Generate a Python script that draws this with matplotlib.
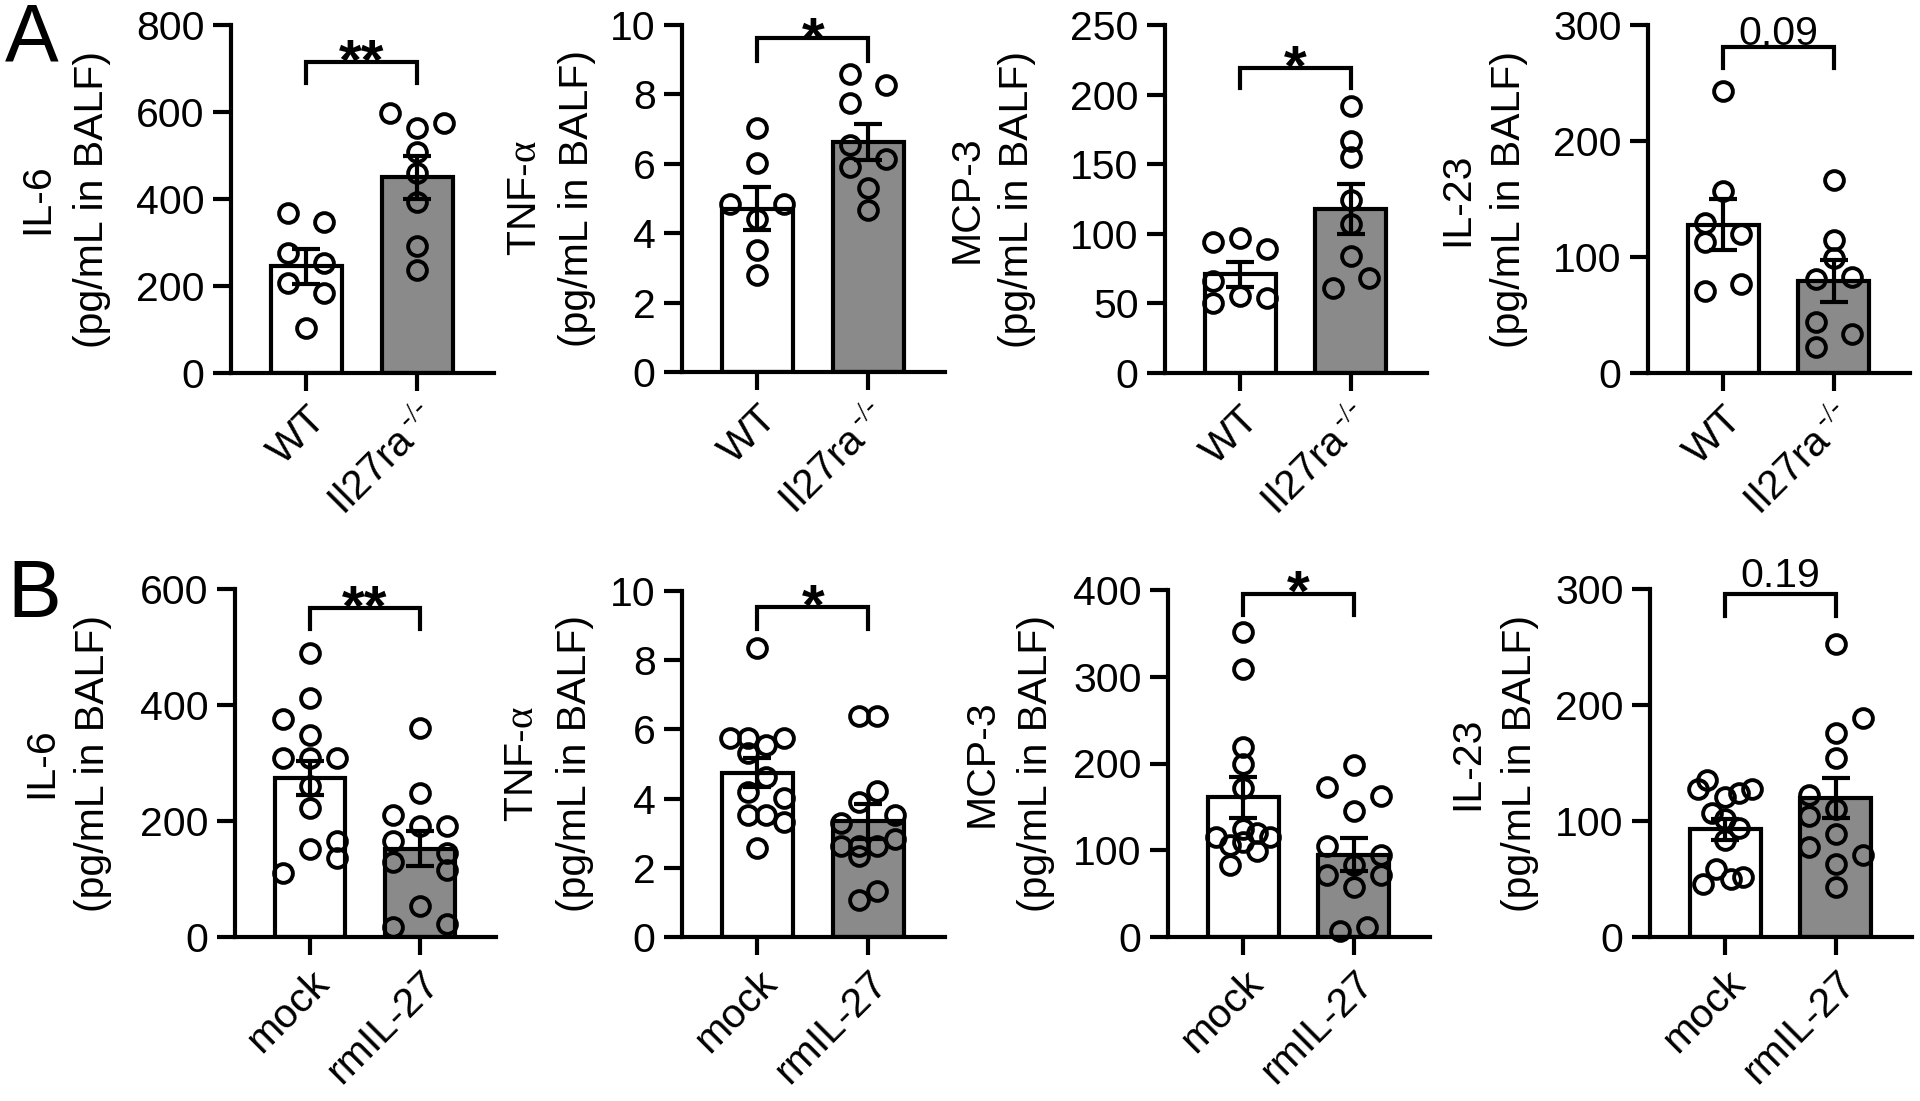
import numpy as np
import matplotlib.pyplot as plt
from matplotlib.transforms import blended_transform_factory

plt.rcParams['font.family'] = ['Liberation Sans', 'DejaVu Sans']
plt.rcParams['mathtext.fontset'] = 'custom'
plt.rcParams['mathtext.rm'] = 'Liberation Serif'

# ---- panel A : WT vs Il27ra-/- ----
groups_a = ['WT', r'Il27ra$^{\,\text{-/-}}$']

il6_a_wt = [367, 346, 276, 253, 207, 184, 103]
il6_a_ko = [597, 574, 563, 509, 459, 394, 291, 237]
il6_a_mean = [245, 450]
il6_a_sem = [40, 50]

tnf_a_wt = [7.02, 6.01, 4.84, 4.84, 4.42, 3.51, 2.79]
tnf_a_ko = [8.59, 8.27, 7.76, 6.54, 6.13, 5.91, 5.29, 4.66]
tnf_a_mean = [4.70, 6.63]
tnf_a_sem = [0.62, 0.53]

mcp_a_wt = [94, 97, 89, 66, 55, 50.5, 54]
mcp_a_ko = [192, 167, 155, 124, 107, 84, 68.5, 61]
mcp_a_mean = [71, 118]
mcp_a_sem = [9, 18]

il23_a_wt = [243, 157, 129, 120, 113, 71, 77]
il23_a_ko = [166, 115, 99, 81, 83, 44, 34, 22]
il23_a_mean = [128, 79]
il23_a_sem = [22, 18]

# ---- panel B : mock vs rmIL-27 ----
groups_b = ['mock', 'rmIL-27']

il6_b_mock = [490, 412, 376, 349, 309, 309, 309, 260, 222, 165, 152, 136, 110]
il6_b_rm = [360, 248, 211, 191, 191, 165, 145, 129, 116, 53, 18, 23]
il6_b_mean = [274, 152]
il6_b_sem = [29, 30]

tnf_b_mock = [8.34, 5.74, 5.74, 5.74, 5.55, 5.33, 4.63, 4.20, 4.01, 3.53, 3.53, 3.31, 2.57]
tnf_b_rm = [6.38, 6.38, 4.23, 3.91, 3.53, 3.29, 2.83, 2.62, 2.62, 2.62, 2.33, 1.32, 1.08]
tnf_b_mean = [4.75, 3.34]
tnf_b_sem = [0.42, 0.50]

mcp_b_mock = [352, 309, 219, 200, 172, 124, 120, 115, 115, 110, 106, 99, 83]
mcp_b_rm = [198, 173, 163, 145, 105, 95, 83, 72, 72, 58, 12, 7]
mcp_b_mean = [161, 95]
mcp_b_sem = [24, 19]

il23_b_mock = [135, 128, 128, 124, 121, 107, 102, 94, 84, 59, 52, 50, 46]
il23_b_rm = [253, 189, 176, 154, 122, 110, 104, 89, 78, 71, 63, 43]
il23_b_mean = [93, 120]
il23_b_sem = [9, 17]

# horizontal scatter columns for each point (units of ~9 px)
cols = {
    'il6_a': ([-2, 2, -2, 2, -2, 2, 0], [-3, 3, 0, 0, 0, 0, 0, 0]),
    'tnf_a': ([0, 0, -3, 3, 0, 0, 0], [-2, 2, -2, -2, 2, -2, 0, 0]),
    'mcp_a': ([-3, 0, 3, -3, 0, -3, 3], [0, 0, 0, 0, 0, 0, 2, -2]),
    'il23_a': ([0, 0, -2, 2, -2, -2, 2], [0, 0, 0, -2, 2, -2, 2, -2]),
    'il6_b': ([0, 0, -3, 0, -3, 0, 3, 0, 0, 3, 0, 3, -3], [0, 0, -3, 0, 3, -3, 3, -3, 3, 0, -3, 3]),
    'tnf_b': ([0, -3, -1, 3, 1, -1, 1, -1, 3, -1, 1, 3, 0], [-1, 1, 1, -1, 3, -3, 3, -3, -1, 1, -1, 1, -1]),
    'mcp_b': ([0, 0, 0, 0, 0, 0, 1.5, -3, 3, 0, -1.5, 1.5, -1.5], [0, -3, 3, 0, -3, 3, 0, -3, 3, 0, 1.5, -1.5]),
    'il23_b': ([-2, -3, 3, 1.5, 0, -1.5, 0, 1.5, 0, -1, 2, 0.7, -2.5], [0, 3, 0, 0, -3, 0, -3, 0, -3, 3, 0, 0]),
}

panels = [
    ('il6_a', il6_a_wt, il6_a_ko, il6_a_mean, il6_a_sem, 800, 200, 'IL-6', groups_a, '**'),
    ('tnf_a', tnf_a_wt, tnf_a_ko, tnf_a_mean, tnf_a_sem, 10, 2, r'TNF-$\mathrm{\alpha}$', groups_a, '*'),
    ('mcp_a', mcp_a_wt, mcp_a_ko, mcp_a_mean, mcp_a_sem, 250, 50, 'MCP-3', groups_a, '*'),
    ('il23_a', il23_a_wt, il23_a_ko, il23_a_mean, il23_a_sem, 300, 100, 'IL-23', groups_a, '0.09'),
    ('il6_b', il6_b_mock, il6_b_rm, il6_b_mean, il6_b_sem, 600, 200, 'IL-6', groups_b, '**'),
    ('tnf_b', tnf_b_mock, tnf_b_rm, tnf_b_mean, tnf_b_sem, 10, 2, r'TNF-$\mathrm{\alpha}$', groups_b, '*'),
    ('mcp_b', mcp_b_mock, mcp_b_rm, mcp_b_mean, mcp_b_sem, 400, 100, 'MCP-3', groups_b, '*'),
    ('il23_b', il23_b_mock, il23_b_rm, il23_b_mean, il23_b_sem, 300, 100, 'IL-23', groups_b, '0.19'),
]

# axes rectangles in pixels: left (y axis), right end of x axis, bottom (y=0), top
W, H = 1920, 1101
boxes = [(231, 494, 373, 25), (682, 945, 372, 25), (1165, 1427, 373, 25), (1648, 1910, 373, 25),
         (235, 496, 937, 589), (682, 945, 937, 591), (1168, 1430, 937, 590), (1650, 1912, 937, 589)]
# x centre (pixels) of the two y-label lines: analyte name, units
label_x = [(37, 92), (525, 577), (967, 1017), (1457, 1509),
           (41, 93), (522, 575), (982, 1036), (1467, 1520)]
# bracket: line height, leg bottom, text baseline (axes fraction)
brackets = [(0.894, 0.834, 0.842), (0.9625, 0.896, 0.905), (0.876, 0.819, 0.825), (0.937, 0.876, 0.942),
            (0.945, 0.885, 0.895), (0.954, 0.891, 0.902), (0.988, 0.928, 0.94), (0.986, 0.922, 1.007)]

grey = '#8a8a8a'
lw = 3
step = 0.081
fsz = 29.5

fig = plt.figure(figsize=(W / 100, H / 100), dpi=100)

for (key, g1, g2, mean, sem, ytop, ystep, name, xlabels, sig), box, lx, br in zip(panels, boxes, label_x, brackets):
    l, r, b, t = box
    ax = fig.add_axes([l / W, 1 - b / H, (r - l) / W, (b - t) / H])
    ax.bar([0, 1], mean, width=0.64, color=['white', grey], edgecolor='black', linewidth=lw, zorder=1)
    ax.errorbar([0, 1], mean, yerr=sem, fmt='none', ecolor='black', elinewidth=lw,
                capsize=10, capthick=lw, zorder=2)
    for i, vals in enumerate([g1, g2]):
        xs = i + np.array(cols[key][i]) * step
        ax.plot(xs, vals, 'o', mfc='none', mec='black', ms=13.5, mew=2.8, clip_on=False, zorder=3)

    ax.set_xlim(-0.68, 1.69)
    ax.set_ylim(0, ytop)
    ax.set_yticks(np.arange(0, ytop + ystep / 2, ystep))
    ax.set_xticks([0, 1])
    ax.set_xticklabels(xlabels, rotation=45, ha='right', va='top', rotation_mode='anchor')
    ax.spines['top'].set_visible(False)
    ax.spines['right'].set_visible(False)
    for s in ['left', 'bottom']:
        ax.spines[s].set_linewidth(lw)
    ax.tick_params(direction='out', length=13, width=lw, labelsize=fsz, pad=6)

    # two-line y label drawn as two rotated texts
    for txt, px in zip([name, '(pg/mL in BALF)'], lx):
        ax.text((px - l) / (r - l), 0.5, txt, transform=ax.transAxes, rotation=90,
                ha='center', va='center', fontsize=fsz)

    tr = blended_transform_factory(ax.transData, ax.transAxes)
    top, leg, ty = br
    ax.plot([0, 0, 1, 1], [leg, top, top, leg], color='black', lw=lw, transform=tr,
            clip_on=False, solid_joinstyle='miter')
    if '*' in sig:
        ax.text(0.5, ty, sig, transform=tr, ha='center', va='baseline', fontsize=42, fontweight='bold')
    else:
        ax.text(0.5, ty, sig, transform=tr, ha='center', va='baseline', fontsize=fsz)

fig.text(0.0026, 0.9455, 'A', fontsize=58, va='baseline')
fig.text(0.0036, 0.4396, 'B', fontsize=58, va='baseline')

fig.savefig('out.png', dpi=100)
